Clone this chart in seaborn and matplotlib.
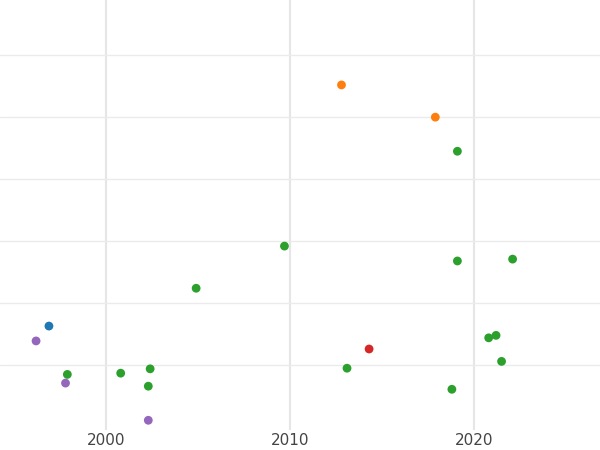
import matplotlib
matplotlib.use("Agg")
import matplotlib.pyplot as plt
import seaborn as sns
import pandas as pd

years = [1996.9, 1996.2, 1997.8, 2002.3,
         1997.9, 2000.8, 2002.4, 2002.3, 2004.9, 2009.7, 2013.1, 2019.1, 2019.1,
         2022.1, 2020.8, 2021.2, 2021.5, 2018.8,
         2012.8, 2017.9, 2014.3]
values = [0.63, 0.39, -0.29, -0.89,
          -0.15, -0.13, -0.06, -0.34, 1.24, 1.92, -0.05, 3.45, 1.68,
          1.71, 0.44, 0.48, 0.06, -0.39,
          4.52, 4.0, 0.26]
groups = ["A", "E", "E", "E",
          "C", "C", "C", "C", "C", "C", "C", "C", "C",
          "C", "C", "C", "C", "C",
          "B", "B", "D"]
palette = {"A": "#1f77b4", "B": "#ff7f0e", "C": "#2ca02c", "D": "#d62728", "E": "#9467bd"}

df = pd.DataFrame({"year": years, "value": values, "group": groups})

sns.set_style("whitegrid", {"grid.color": "#ebebeb"})
fig = plt.figure(figsize=(6, 4.5), dpi=100)
ax = fig.add_axes([0, 0.044, 1, 0.956])
sns.scatterplot(data=df, x="year", y="value", hue="group", palette=palette,
                s=40, edgecolor="none", legend=False, ax=ax)
ax.set_xlim(1994.24, 2026.85)
ax.set_ylim(-1.05, 5.89)
ax.set_xticks([2000, 2010, 2020])
ax.set_yticks([0, 1, 2, 3, 4, 5])
ax.set_yticklabels([])
ax.tick_params(axis="y", length=0)
ax.tick_params(axis="x", length=0, labelsize=11, colors="#444444", pad=2)
ax.set_xlabel("")
ax.set_ylabel("")
for s in ax.spines.values():
    s.set_visible(False)
ax.grid(axis="x", color="#e6e6e6", linewidth=1.5)
ax.grid(axis="y", color="#ebebeb", linewidth=1)
fig.savefig("out.png", dpi=100)
